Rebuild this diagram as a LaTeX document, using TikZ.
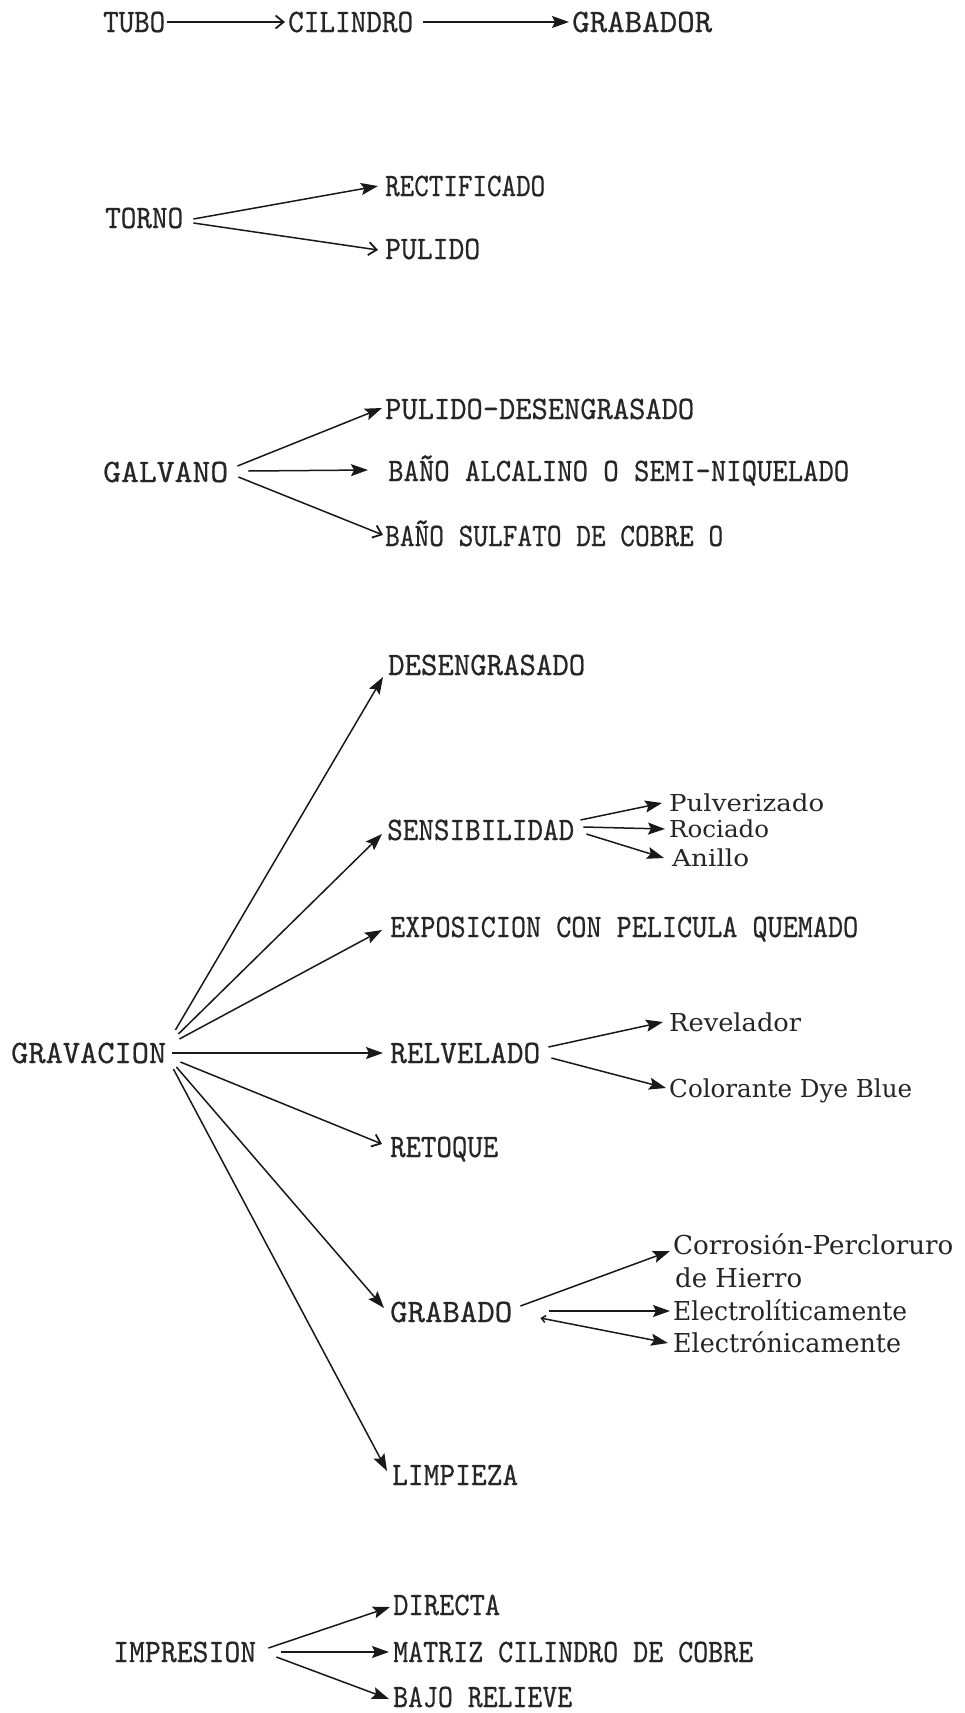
\documentclass[tikz,border=0pt]{standalone}
\usepackage{fontspec}
\newfontfamily\capf[FakeBold=0.6]{Latin Modern Mono}
\newfontfamily\lowf{DejaVu Serif}
\usetikzlibrary{arrows.meta}
\newcommand\fitc[3]{\resizebox{#1pt}{#2pt}{\capf\smash{#3}\vphantom{X}}}
\newcommand\fitl[3]{\resizebox{#1pt}{#2pt}{\lowf\smash{#3}\vphantom{X}}}
\tikzset{
  lbl/.style={inner sep=0pt, anchor=west, text=black!85},
  af/.style={-{Stealth[length=17pt,width=12pt,inset=3pt]}, line width=1.5pt, draw=black!90},
  ao/.style={-{Straight Barb[length=8pt,width=13pt,line width=1.8pt]}, line width=1.5pt, draw=black!90},
  atick/.style={{Straight Barb[length=4pt,width=7pt]}-{Stealth[length=17pt,width=12pt,inset=3pt]}, line width=1.5pt, draw=black!90},
}
\begin{document}
\begin{tikzpicture}[x=1pt,y=-1pt]
\fill[white] (0,0) rectangle (964,1713);
\path[use as bounding box] (0,0) rectangle (964,1713);

% Row 1
\node[lbl] (tubo) at (103,22) {\fitc{62}{20}{TUBO}};
\node[lbl] (cil) at (288,22) {\fitc{125}{20}{CILINDRO}};
\node[lbl] (grabador) at (572,22) {\fitc{140}{20}{GRABADOR}};
\draw[ao] ([shift={(2,0)}]tubo.east) -- ([shift={(-3,0)}]cil.west);
\draw[af] ([shift={(10,0)}]cil.east) -- ([shift={(-3,0)}]grabador.west);

% TORNO
\node[lbl] (torno) at (105,218) {\fitc{78}{20}{TORNO}};
\node[lbl] (rect) at (385,186) {\fitc{160}{20}{RECTIFICADO}};
\node[lbl] (pul) at (385,249) {\fitc{95}{20}{PULIDO}};
\draw[af] ([shift={(10,1)}]torno.east) -- ([shift={(-7,0)}]rect.west);
\draw[ao] ([shift={(10,5)}]torno.east) -- ([shift={(-7,1)}]pul.west);

% GALVANO
\node[lbl] (galv) at (103,472) {\fitc{125}{20}{GALVANO}};
\node[lbl] (pdes) at (385,409) {\fitc{309}{20}{PULIDO-DESENGRASADO}};
\node[lbl] (balc) at (388,471) {\fitc{461}{20}{BAÑO ALCALINO O SEMI-NIQUELADO}};
\node[lbl] (bsulf) at (385,536) {\fitc{338}{20}{BAÑO SULFATO DE COBRE O}};
\draw[af] ([shift={(9,-6)}]galv.east) -- ([shift={(-3,-1)}]pdes.west);
\draw[af] ([shift={(20,-1)}]galv.east) -- ([shift={(-20,-1)}]balc.west);
\draw[ao] ([shift={(10,5)}]galv.east) -- ([shift={(-2,-1)}]bsulf.west);

% GRAVACION
\node[lbl] (grav) at (11,1053) {\fitc{155}{20}{GRAVACION}};
\node[lbl] (deseng) at (388,665) {\fitc{197}{20}{DESENGRASADO}};
\node[lbl] (sens) at (387,830) {\fitc{187}{20}{SENSIBILIDAD}};
\node[lbl] (expo) at (390,927) {\fitc{468}{20}{EXPOSICION CON PELICULA QUEMADO}};
\node[lbl] (relv) at (390,1053) {\fitc{150}{20}{RELVELADO}};
\node[lbl] (retoq) at (390,1147) {\fitc{108}{20}{RETOQUE}};
\node[lbl] (grabado) at (390,1312) {\fitc{122}{20}{GRABADO}};
\node[lbl] (limp) at (392,1475) {\fitc{126}{20}{LIMPIEZA}};
\draw[af] ([shift={(9,-23)}]grav.east) -- ([shift={(-5,12)}]deseng.west);
\draw[af] ([shift={(12,-19)}]grav.east) -- ([shift={(-5,4)}]sens.west);
\draw[af] ([shift={(13,-14)}]grav.east) -- ([shift={(-8,3)}]expo.west);
\draw[af] ([shift={(6,0)}]grav.east) -- ([shift={(-7,0)}]relv.west);
\draw[ao] ([shift={(14,9)}]grav.east) -- ([shift={(-8,-3)}]retoq.west);
\draw[af] ([shift={(10,14)}]grav.east) -- ([shift={(-6,-4)}]grabado.west);
\draw[af] ([shift={(7,16)}]grav.east) -- ([shift={(-5,-4)}]limp.west);

% SENSIBILIDAD children
\node[lbl] (pulv) at (669,803) {\fitl{155}{17}{Pulverizado}};
\node[lbl] (roc) at (669,829) {\fitl{100}{17}{Rociado}};
\node[lbl] (anil) at (672,858) {\fitl{77}{17}{Anillo}};
\draw[af] ([shift={(6,-10)}]sens.east) -- ([shift={(-7,0)}]pulv.west);
\draw[af] ([shift={(9,-3)}]sens.east) -- ([shift={(-4,0)}]roc.west);
\draw[af] ([shift={(12,4)}]sens.east) -- ([shift={(-8,0)}]anil.west);

% RELVELADO children
\node[lbl] (revel) at (669,1022) {\fitl{132}{18}{Revelador}};
\node[lbl] (color) at (669,1088) {\fitl{243}{18}{Colorante Dye Blue}};
\draw[af] ([shift={(8,-6)}]relv.east) -- ([shift={(-6,0)}]revel.west);
\draw[af] ([shift={(11,5)}]relv.east) -- ([shift={(-3,0)}]color.west);

% GRABADO children
\node[lbl] (corr) at (673,1245) {\fitl{280}{19}{Corrosión-Percloruro}};
\node[lbl] (hier) at (675,1278) {\fitl{127}{19}{de Hierro}};
\node[lbl] (elit) at (673,1311) {\fitl{234}{19}{Electrolíticamente}};
\node[lbl] (elon) at (673,1343) {\fitl{228}{19}{Electrónicamente}};
\draw[af] ([shift={(8,-6)}]grabado.east) -- ([shift={(-3,6)}]corr.west);
\draw[af] ([shift={(37,-1)}]grabado.east) -- ([shift={(-3,0)}]elit.west);
\draw[atick] ([shift={(28,6)}]grabado.east) -- ([shift={(-5,0)}]elon.west);

% IMPRESION
\node[lbl] (impr) at (113,1652) {\fitc{143}{20}{IMPRESION}};
\node[lbl] (dir) at (393,1605) {\fitc{107}{20}{DIRECTA}};
\node[lbl] (matr) at (393,1652) {\fitc{360}{20}{MATRIZ CILINDRO DE COBRE}};
\node[lbl] (bajo) at (393,1697) {\fitc{179}{20}{BAJO RELIEVE}};
\draw[af] ([shift={(12,-4)}]impr.east) -- ([shift={(-3,2)}]dir.west);
\draw[af] ([shift={(25,0)}]impr.east) -- ([shift={(-4,0)}]matr.west);
\draw[af] ([shift={(20,5)}]impr.east) -- ([shift={(-4,2)}]bajo.west);
\end{tikzpicture}
\end{document}
